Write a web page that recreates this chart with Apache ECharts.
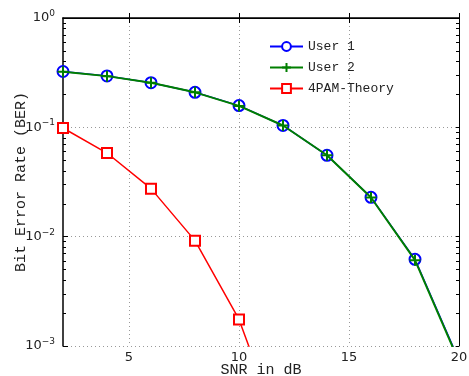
<!DOCTYPE html>
<html>
<head>
<meta charset="utf-8">
<script src="https://cdn.jsdelivr.net/npm/echarts@6/dist/echarts.min.js"></script>
<style>
  html, body { margin: 0; padding: 0; background: #fff; }
  #chart { width: 469px; height: 376px; }
</style>
</head>
<body>
<div id="chart"></div>
<script>
// SNR points (dB)
var snr = [2, 4, 6, 8, 10, 12, 14, 16, 18, 20];
var user1 = [0.324, 0.295, 0.256, 0.209, 0.158, 0.104, 0.0555, 0.0229, 0.0062, 0.00074];
var user2 = [0.323, 0.294, 0.256, 0.209, 0.157, 0.104, 0.0555, 0.0228, 0.0061, 0.00072];
var pamTheory = [0.0986, 0.0582, 0.0275, 0.0092, 0.00175, 0.00014];
var xTicks = [5, 10, 15, 20];
var yMajor = [-3, -2, -1, 0];

var monoFont = "'Liberation Mono', 'DejaVu Sans Mono', monospace";
var sansFont = "'DejaVu Sans', 'Liberation Sans', sans-serif";

// minor log ticks 2..9 per decade (as log10 positions)
var yMinor = [];
for (var d = -3; d < 0; d++) {
  for (var k = 2; k <= 9; k++) {
    yMinor.push(Math.log10(k) + d);
  }
}

function pairs(xs, ys) {
  var out = [];
  for (var i = 0; i < ys.length; i++) {
    out.push([xs[i], ys[i]]);
  }
  return out;
}

var chart = echarts.init(document.getElementById('chart'));
var plusPath = 'path://M5,0 L5,10 M0,5 L10,5';

chart.setOption({
  animation: false,
  backgroundColor: '#fff',
  grid: { left: 63, right: 10, top: 18, bottom: 30, containLabel: false, outerBoundsMode: 'none' },
  legend: {
    orient: 'vertical',
    left: 264,
    top: 35,
    itemWidth: 33,
    itemHeight: 11,
    itemGap: 8,
    textStyle: { fontFamily: monoFont, fontSize: 13, color: '#222' },
    data: ['User 1', 'User 2', '4PAM-Theory']
  },
  xAxis: [{
    type: 'value',
    min: 2,
    max: 20,
    name: 'SNR in dB',
    nameLocation: 'middle',
    nameGap: 17,
    nameMoveOverlap: false,
    nameTextStyle: { fontFamily: monoFont, fontSize: 15, color: '#222' },
    axisLine: { lineStyle: { color: '#000', width: 1.5 } },
    axisTick: { inside: true, length: 5, customValues: xTicks, lineStyle: { color: '#000' } },
    axisLabel: { customValues: xTicks, fontFamily: sansFont, fontSize: 13, color: '#222', margin: 5 },
    splitLine: { show: true, lineStyle: { type: [1, 3], color: '#999', width: 1 } }
  }, {
    type: 'value',
    min: 2,
    max: 20,
    position: 'top',
    axisLine: { show: true, lineStyle: { color: '#000', width: 1 } },
    axisTick: { inside: true, length: 5, customValues: xTicks, lineStyle: { color: '#000' } },
    axisLabel: { show: false },
    splitLine: { show: false }
  }],
  yAxis: [{
    type: 'log',
    logBase: 10,
    min: 0.001,
    max: 1,
    name: 'Bit Error Rate (BER)',
    nameLocation: 'middle',
    nameGap: 34,
    nameMoveOverlap: false,
    nameTextStyle: { fontFamily: monoFont, fontSize: 15, color: '#222' },
    axisLine: { show: true, lineStyle: { color: '#000', width: 1.5 } },
    axisTick: { inside: true, length: 5, lineStyle: { color: '#000' } },
    axisLabel: {
      margin: 8,
      formatter: function (v) {
        var n = Math.round(Math.log10(v));
        return '10{sup|' + (n < 0 ? '\u2212' + (-n) : n) + '}';
      },
      fontFamily: sansFont,
      fontSize: 13,
      color: '#222',
      rich: {
        sup: { fontFamily: sansFont, fontSize: 9, color: '#222', verticalAlign: 'top', padding: [0, 0, 9, 0] }
      }
    },
    splitLine: { show: true, lineStyle: { type: [1, 3], color: '#999', width: 1 } }
  }, {
    type: 'value',
    min: -3,
    max: 0,
    position: 'left',
    axisLine: { show: false },
    axisTick: { inside: true, length: 3, customValues: yMinor, lineStyle: { color: '#000' } },
    axisLabel: { show: false },
    splitLine: { show: false }
  }, {
    type: 'value',
    min: -3,
    max: 0,
    position: 'right',
    axisLine: { show: true, lineStyle: { color: '#000', width: 1 } },
    axisTick: { inside: true, length: 3, customValues: yMinor.concat(yMajor), lineStyle: { color: '#000' } },
    axisLabel: { show: false },
    splitLine: { show: false }
  }],
  series: [{
    name: 'User 1',
    type: 'line',
    data: pairs(snr, user1),
    symbol: 'emptyCircle',
    symbolSize: 11,
    showAllSymbol: true,
    lineStyle: { color: '#0000ff', width: 1.5 },
    itemStyle: { color: '#0000ff', borderColor: '#0000ff', borderWidth: 2 },
    z: 2
  }, {
    name: 'User 2',
    type: 'line',
    data: pairs(snr, user2),
    symbol: plusPath,
    symbolSize: 11,
    showAllSymbol: true,
    lineStyle: { color: '#007f00', width: 2 },
    itemStyle: { color: '#007f00', borderColor: '#007f00', borderWidth: 2 },
    z: 3
  }, {
    name: '4PAM-Theory',
    type: 'line',
    data: pairs(snr, pamTheory),
    symbol: 'emptyRect',
    symbolSize: 10,
    showAllSymbol: true,
    lineStyle: { color: '#ff0000', width: 1.5 },
    itemStyle: { color: '#ff0000', borderColor: '#ff0000', borderWidth: 1.5 },
    z: 2
  }]
});
</script>
</body>
</html>
